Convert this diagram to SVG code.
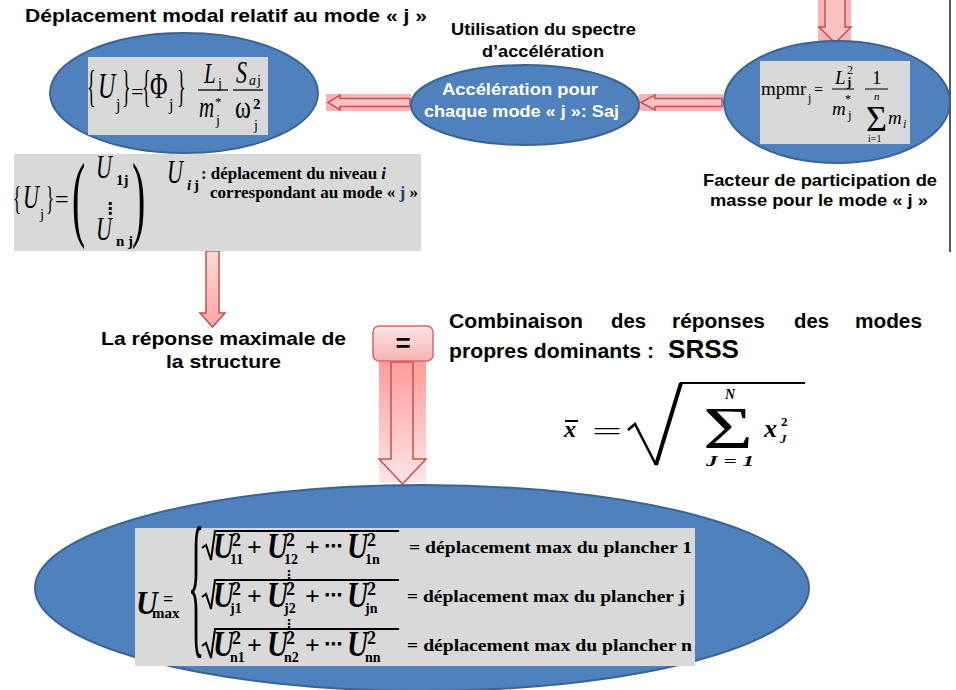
<svg xmlns="http://www.w3.org/2000/svg" width="956" height="690" viewBox="0 0 956 690">
<defs>
<linearGradient id="gBig" x1="0" y1="0" x2="0" y2="1"><stop offset="0" stop-color="#ff9c9c"/><stop offset="1" stop-color="#ffe6e6"/></linearGradient>
<linearGradient id="gEq" x1="0" y1="0" x2="0" y2="1"><stop offset="0" stop-color="#fde4e4"/><stop offset="1" stop-color="#f6b2b2"/></linearGradient>
<linearGradient id="gSmall" x1="0" y1="0" x2="0" y2="1"><stop offset="0" stop-color="#ffdada"/><stop offset="1" stop-color="#ffa4a4"/></linearGradient>
<style>
.lbl{font-family:"Liberation Sans",Arial,sans-serif;font-weight:bold;fill:#000}
.wl{fill:#fff}
.m{font-family:"Liberation Serif","Times New Roman",serif;fill:#000}
.i{font-style:italic}
.b{font-weight:bold}
.ell{fill:#4f81bd;stroke:#3b6494;stroke-width:2}
.box{fill:#d9d9d9}
.glow{fill:#f8b4b4}
.arr{fill:#f9c2c2;stroke:#c9504e;stroke-width:1.5}
.ln{stroke:#000;fill:none}
.dots{font-family:"DejaVu Sans",sans-serif;fill:#000;font-weight:bold}
</style>
</defs>
<rect x="0" y="0" width="956" height="690" fill="#fff"/>
<line x1="950" y1="0" x2="950" y2="252" stroke="#222" stroke-width="1.5"/>

<g id="connectors">
  <rect class="glow" x="818" y="0" width="33" height="43"/>
  <polygon class="arr" points="825,-2 845,-2 845,27 851,27 835,43 819,27 825,27"/>
  <rect class="glow" x="639" y="94" width="84" height="17"/>
  <polygon class="arr" points="722,98.5 655,98.5 655,95 641,102.5 655,110 655,106.5 722,106.5"/>
  <rect class="glow" x="326" y="94" width="85" height="17"/>
  <polygon class="arr" points="410,98.5 340,98.5 340,95 328,102.5 340,110 340,106.5 410,106.5"/>
  <polygon points="206,251 219,251 219,313 225,313 212.5,327 200,313 206,313" fill="url(#gSmall)" stroke="#c9504e" stroke-width="1.5"/>
  <rect x="379" y="361" width="47" height="122" fill="url(#gBig)"/>
  <polygon points="391,362 413,362 413,459 426,459 402.5,484 379,459 391,459" fill="url(#gBig)" stroke="#c9504e" stroke-width="1.5"/>
</g>

<g id="title">
  <text class="lbl" x="25" y="22" font-size="19" textLength="402" lengthAdjust="spacingAndGlyphs">Déplacement modal relatif au mode « j »</text>
</g>

<g id="node-deplacement">
  <ellipse class="ell" cx="184" cy="93" rx="134" ry="60"/>
  <rect class="box" x="88" y="57" width="180" height="78"/>
  <text class="m" font-size="30" transform="translate(87,101) scale(0.6,1.45)">{</text>
  <text class="m i" font-size="24" transform="translate(98,98) scale(1,1.5)">U</text>
  <text class="m" font-size="16" x="116" y="110">j</text>
  <text class="m" font-size="30" transform="translate(122,101) scale(0.6,1.45)">}</text>
  <text class="m" font-size="22" x="131" y="99">=</text>
  <text class="m" font-size="30" transform="translate(142,101) scale(0.6,1.45)">{</text>
  <text class="m" font-size="24" transform="translate(150,98) scale(1,1.5)">Φ</text>
  <text class="m" font-size="16" x="169" y="110">j</text>
  <text class="m" font-size="30" transform="translate(177,101) scale(0.6,1.45)">}</text>
  <line class="ln" x1="198" y1="90" x2="228" y2="90" stroke-width="1.3"/>
  <text class="m i" font-size="21" transform="translate(204,83) scale(1,1.4)">L</text>
  <text class="m" font-size="14" x="218" y="88">j</text>
  <text class="m i" font-size="21" transform="translate(199,117) scale(1,1.4)">m</text>
  <text class="m" font-size="13" x="215" y="106">*</text>
  <text class="m" font-size="14" x="216" y="125">j</text>
  <line class="ln" x1="233" y1="90" x2="263" y2="90" stroke-width="1.3"/>
  <text class="m i" font-size="22" transform="translate(236,83) scale(1,1.4)">S</text>
  <text class="m i" font-size="14" x="249" y="85">a</text>
  <text class="m" font-size="14" x="257" y="85">j</text>
  <text class="m" font-size="24" transform="translate(235,118) scale(1,1.3)">ω</text>
  <text class="m b" font-size="15" x="253" y="109">2</text>
  <text class="m" font-size="14" x="254" y="130">j</text>
</g>

<g id="node-vecteur">
  <rect class="box" x="14" y="154" width="407" height="97"/>
  <text class="m" font-size="26" transform="translate(13,209) scale(0.65,1.3)">{</text>
  <text class="m i" font-size="22" transform="translate(23,208) scale(1,1.5)">U</text>
  <text class="m" font-size="15" x="40" y="219">j</text>
  <text class="m" font-size="26" transform="translate(46,209) scale(0.65,1.3)">}</text>
  <text class="m" font-size="24" x="55" y="207">=</text>
  <text class="m" font-size="40" transform="translate(72,229) scale(1,2.4)">(</text>
  <text class="m i" font-size="22" transform="translate(96,178) scale(1,1.5)">U</text>
  <text class="m b" font-size="15" x="116" y="185">1j</text>
  <text class="dots" font-size="16" x="102" y="214">⋮</text>
  <text class="m i" font-size="22" transform="translate(96,240) scale(1,1.5)">U</text>
  <text class="m b" font-size="15" x="116" y="246">n j</text>
  <text class="m" font-size="40" transform="translate(132,229) scale(1,2.4)">)</text>
  <text class="m i" font-size="22" transform="translate(167,183) scale(1,1.5)">U</text>
  <text class="m b i" font-size="15" x="187" y="190">i</text>
  <text class="m b" font-size="15" x="194" y="190">j</text>
  <text class="m b" font-size="17" x="201" y="179" textLength="185" lengthAdjust="spacingAndGlyphs">: déplacement du niveau <tspan class="i">i</tspan></text>
  <text class="m b" font-size="17" x="210" y="198" textLength="208" lengthAdjust="spacingAndGlyphs">correspondant au mode « <tspan fill="#1f3864">j</tspan> »</text>
</g>

<g id="node-acceleration">
  <text class="lbl" font-size="17" x="451" y="35" textLength="185" lengthAdjust="spacingAndGlyphs">Utilisation du spectre</text>
  <text class="lbl" font-size="17" x="482" y="57" textLength="122" lengthAdjust="spacingAndGlyphs">d’accélération</text>
  <ellipse class="ell" cx="525" cy="105" rx="114" ry="40"/>
  <text class="lbl wl" font-size="17" x="442" y="95" textLength="156" lengthAdjust="spacingAndGlyphs">Accélération pour</text>
  <text class="lbl wl" font-size="17" x="424" y="117" textLength="195" lengthAdjust="spacingAndGlyphs">chaque mode « j »: Saj</text>
</g>

<g id="node-participation">
  <ellipse class="ell" cx="837" cy="102" rx="113" ry="61"/>
  <rect class="box" x="760" y="61" width="150" height="83"/>
  <text class="m" font-size="19" x="761" y="95">mpmr</text>
  <text class="m" font-size="12" x="808" y="102">j</text>
  <text class="m" font-size="16" x="814" y="95">=</text>
  <line class="ln" x1="832" y1="89" x2="854" y2="89" stroke-width="1"/>
  <text class="m i" font-size="19" x="835" y="84">L</text>
  <text class="m" font-size="12" x="847" y="74">2</text>
  <text class="m b" font-size="13" x="847" y="86">j</text>
  <text class="m i" font-size="19" x="832" y="115">m</text>
  <text class="m" font-size="12" x="845" y="103">*</text>
  <text class="m" font-size="13" x="848" y="119">j</text>
  <line class="ln" x1="865" y1="89" x2="888" y2="89" stroke-width="1"/>
  <text class="m" font-size="19" x="872" y="84">1</text>
  <text class="m i" font-size="11" x="874" y="100">n</text>
  <text class="m" font-size="36" x="866" y="131" textLength="21" lengthAdjust="spacingAndGlyphs">Σ</text>
  <text class="m i" font-size="19" x="888" y="124">m</text>
  <text class="m i" font-size="12" x="903" y="128">i</text>
  <text class="m" font-size="10" x="868" y="142">i=1</text>
  <text class="lbl" font-size="17" x="703" y="186" textLength="234" lengthAdjust="spacingAndGlyphs">Facteur de participation de</text>
  <text class="lbl" font-size="17" x="710" y="206" textLength="218" lengthAdjust="spacingAndGlyphs">masse pour le mode « j »</text>
</g>

<g id="label-reponse">
  <text class="lbl" font-size="19" x="101" y="345" textLength="245" lengthAdjust="spacingAndGlyphs">La réponse maximale de</text>
  <text class="lbl" font-size="19" x="166" y="368" textLength="115" lengthAdjust="spacingAndGlyphs">la structure</text>
</g>

<g id="node-egal">
  <rect x="373" y="326" width="60" height="35" rx="6" fill="url(#gEq)" stroke="#d46a6a" stroke-width="1.5"/>
  <text class="lbl" font-size="26" x="403" y="352" text-anchor="middle">=</text>
</g>

<g id="node-srss">
  <text class="lbl" font-size="20">
    <tspan x="449" y="328" textLength="134" lengthAdjust="spacingAndGlyphs">Combinaison</tspan>
    <tspan x="611" y="328" textLength="35" lengthAdjust="spacingAndGlyphs">des</tspan>
    <tspan x="672" y="328" textLength="93" lengthAdjust="spacingAndGlyphs">réponses</tspan>
    <tspan x="794" y="328" textLength="35" lengthAdjust="spacingAndGlyphs">des</tspan>
    <tspan x="855" y="328" textLength="67" lengthAdjust="spacingAndGlyphs">modes</tspan>
  </text>
  <text class="lbl" font-size="20" x="449" y="358" textLength="205" lengthAdjust="spacingAndGlyphs">propres dominants :</text>
  <text class="lbl" font-size="26" x="668" y="358" textLength="71" lengthAdjust="spacingAndGlyphs">SRSS</text>
  <text class="m b i" font-size="24" x="564" y="437">x</text>
  <line class="ln" x1="565" y1="421" x2="578" y2="421" stroke-width="2"/>
  <text class="m" font-size="26" x="592" y="440" textLength="30" lengthAdjust="spacingAndGlyphs">=</text>
  <polyline class="ln" points="628,430 635,424 656,465" stroke-width="2.5"/>
  <line class="ln" x1="656" y1="465" x2="681" y2="383" stroke-width="4"/>
  <line class="ln" x1="680" y1="383" x2="805" y2="383" stroke-width="2"/>
  <text class="m" font-size="60" x="703" y="448" textLength="50" lengthAdjust="spacingAndGlyphs">Σ</text>
  <text class="m b i" font-size="14" x="725" y="399">N</text>
  <text class="m b i" font-size="15" x="706" y="466" textLength="48" lengthAdjust="spacingAndGlyphs">J = 1</text>
  <text class="m b i" font-size="26" x="764" y="437">x</text>
  <text class="m b" font-size="13" x="781" y="426">2</text>
  <text class="m b i" font-size="13" x="780" y="443">J</text>
</g>

<g id="node-umax">
  <ellipse class="ell" cx="422" cy="588" rx="387" ry="103"/>
  <rect class="box" x="135" y="528" width="560" height="138"/>
  <text class="m b i" font-size="30" transform="translate(136,614) scale(1,1.1)">U</text>
  <text class="m b" font-size="15" x="152" y="618">max</text>
  <text class="m b" font-size="18" x="163" y="605">=</text>
  <text class="m" font-size="40" transform="translate(188,637) scale(0.85,3.95)">{</text>

  <polyline class="ln" stroke-width="2" points="202,548 206,545 211,560 215,531 399,531"/>
  <text class="m b i" font-size="28" transform="translate(213,558) scale(1.05,1.25)">U</text>
  <text class="m b" font-size="18" x="232" y="546">2</text>
  <text class="m b" font-size="14" x="230" y="564">11</text>
  <text class="m b" font-size="26" x="247" y="556">+</text>
  <text class="m b i" font-size="28" transform="translate(267,558) scale(1.05,1.25)">U</text>
  <text class="m b" font-size="18" x="286" y="546">2</text>
  <text class="m b" font-size="14" x="284" y="564">12</text>
  <text class="m b" font-size="26" x="305" y="556">+</text>
  <text class="dots" font-size="18" x="324" y="552">⋯</text>
  <text class="m b i" font-size="28" transform="translate(347,558) scale(1.05,1.25)">U</text>
  <text class="m b" font-size="18" x="367" y="546">2</text>
  <text class="m b" font-size="14" x="365" y="564">1n</text>
  <text class="m b" font-size="16" x="409" y="553" textLength="283" lengthAdjust="spacingAndGlyphs">= déplacement max du plancher 1</text>

  <text class="dots" font-size="12" x="283" y="579">⋮</text>

  <polyline class="ln" stroke-width="2" points="202,597 206,594 211,609 215,580 399,580"/>
  <text class="m b i" font-size="28" transform="translate(213,607) scale(1.05,1.25)">U</text>
  <text class="m b" font-size="18" x="232" y="595">2</text>
  <text class="m b" font-size="14" x="230" y="613">j1</text>
  <text class="m b" font-size="26" x="247" y="605">+</text>
  <text class="m b i" font-size="28" transform="translate(267,607) scale(1.05,1.25)">U</text>
  <text class="m b" font-size="18" x="286" y="595">2</text>
  <text class="m b" font-size="14" x="284" y="613">j2</text>
  <text class="m b" font-size="26" x="305" y="605">+</text>
  <text class="dots" font-size="18" x="324" y="601">⋯</text>
  <text class="m b i" font-size="28" transform="translate(347,607) scale(1.05,1.25)">U</text>
  <text class="m b" font-size="18" x="367" y="595">2</text>
  <text class="m b" font-size="14" x="365" y="613">jn</text>
  <text class="m b" font-size="16" x="407" y="602" textLength="278" lengthAdjust="spacingAndGlyphs">= déplacement max du plancher j</text>

  <text class="dots" font-size="12" x="283" y="628">⋮</text>

  <polyline class="ln" stroke-width="2" points="202,646 206,643 211,658 215,629 399,629"/>
  <text class="m b i" font-size="28" transform="translate(213,656) scale(1.05,1.25)">U</text>
  <text class="m b" font-size="18" x="232" y="644">2</text>
  <text class="m b" font-size="14" x="230" y="662">n1</text>
  <text class="m b" font-size="26" x="247" y="654">+</text>
  <text class="m b i" font-size="28" transform="translate(267,656) scale(1.05,1.25)">U</text>
  <text class="m b" font-size="18" x="286" y="644">2</text>
  <text class="m b" font-size="14" x="284" y="662">n2</text>
  <text class="m b" font-size="26" x="305" y="654">+</text>
  <text class="dots" font-size="18" x="324" y="650">⋯</text>
  <text class="m b i" font-size="28" transform="translate(347,656) scale(1.05,1.25)">U</text>
  <text class="m b" font-size="18" x="367" y="644">2</text>
  <text class="m b" font-size="14" x="365" y="662">nn</text>
  <text class="m b" font-size="16" x="407" y="651" textLength="285" lengthAdjust="spacingAndGlyphs">= déplacement max du plancher n</text>
</g>
</svg>
